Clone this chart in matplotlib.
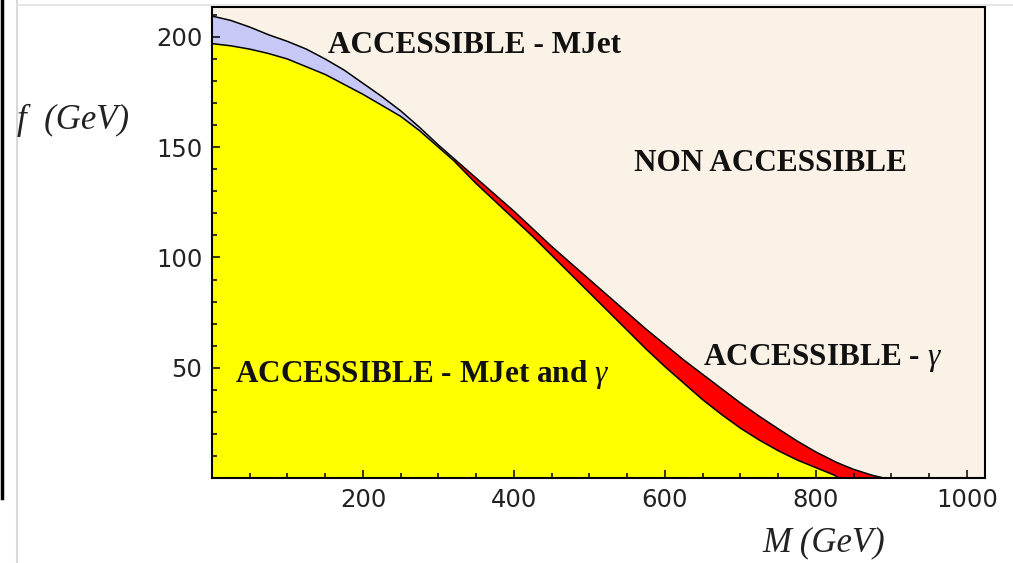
import numpy as np
import matplotlib
matplotlib.use('Agg')
import matplotlib.pyplot as plt
from matplotlib.lines import Line2D
from matplotlib.ticker import MultipleLocator, FixedLocator

plt.rcParams['mathtext.fontset'] = 'custom'
plt.rcParams['mathtext.it'] = 'Liberation Serif:italic'
plt.rcParams['mathtext.rm'] = 'Liberation Serif'

# M (GeV) grid
m_vals = [0, 25, 50, 75, 100, 125, 150, 175, 200, 225, 250, 275, 300, 320,
          350, 375, 400, 425, 450, 475, 500, 525, 550, 575, 600, 625, 650, 675,
          700, 725, 750, 775, 800, 825, 830, 850, 875, 890, 900]
# upper edge of accessible area (MJet left of crossing, gamma right of it)
f_outer = [209.5, 207.5, 204.5, 201, 198, 194.5, 190, 185, 179, 173, 166.5, 159, 151, 145,
           136, 128.5, 121, 113, 105, 97.5, 90, 82.5, 75, 67.5, 60.5, 53.5, 47, 40.5,
           34, 28, 22.3, 16.8, 11.8, 7.5, 6.7, 3.9, 1.2, 0, 0]
# upper edge of the region accessible with both MJet and gamma
f_both = [197, 196, 194.5, 192.5, 190, 186.5, 183, 178.5, 174, 169, 164, 157.5, 150, 144,
          133.5, 125.5, 117.5, 109.5, 101, 92.5, 84, 75.5, 67, 58.5, 50.5, 43, 35.5, 28.8,
          22.6, 17.2, 12.4, 8.2, 4.7, 1.2, 0, 0, 0, 0, 0]
m_cross = 320

m = np.array(m_vals)
outer = np.array(f_outer)
both = np.array(f_both)

beige = '#faf2e7'
yellow = '#ffff00'
blue = '#c8c8f6'
red = '#ff0000'

fig = plt.figure(figsize=(10.13, 5.63), dpi=100)
ax = fig.add_axes([212/1013, 1-478/563, (985-212)/1013, (478-7)/563])
ax.set_facecolor(beige)

ax.fill_between(m, 0, both, color=yellow, lw=0)
ax.fill_between(m, both, outer, where=m <= m_cross, color=blue, lw=0)
ax.fill_between(m, both, outer, where=m >= m_cross, color=red, lw=0)
ax.plot(m, outer, color='black', lw=1.1)
ax.plot(m[m <= 830], both[m <= 830], color='black', lw=1.1)

ax.set_xlim(0, 1024)
ax.set_ylim(0, 213.6)
ax.xaxis.set_major_locator(FixedLocator([200, 400, 600, 800, 1000]))
ax.xaxis.set_minor_locator(MultipleLocator(50))
ax.yaxis.set_major_locator(FixedLocator([50, 100, 150, 200]))
ax.yaxis.set_minor_locator(MultipleLocator(10))
ax.tick_params(which='both', direction='in', top=False, right=False, width=1.1,
               labelsize=17.5, pad=7, labelcolor='#222222')
ax.tick_params(which='major', length=6)
ax.tick_params(which='minor', length=3.5)
for s in ax.spines.values():
    s.set_linewidth(1.5)

lab = dict(family='Liberation Serif', fontweight='bold', fontsize=22.5, color='#111111')
ax.text(154, 196, 'ACCESSIBLE - MJet', ha='left', va='center', **lab)
ax.text(740, 142.7, 'NON ACCESSIBLE', ha='center', va='center', **lab)
ax.text(650, 54.5, r'ACCESSIBLE - $\gamma$', ha='left', va='center', **lab)
ax.text(30, 47, r'ACCESSIBLE - MJet and $\gamma$', ha='left', va='center', **lab)

fig.text(17/1013, 1-120/563, 'f  (GeV)', family='Liberation Serif', style='italic',
         fontsize=25, ha='left', va='center', color='#222222')
fig.text(824/1013, 1-543/563, 'M (GeV)', family='Liberation Serif', style='italic',
         fontsize=25, ha='center', va='center', color='#222222')

# page borders seen in the screenshot
fig.add_artist(Line2D([0.0015, 0.0015], [1, 1-498/563], color='black', lw=2.5,
                      transform=fig.transFigure))
fig.add_artist(Line2D([17/1013, 17/1013], [0, 1], color='#d9d9d9', lw=1.5,
                      transform=fig.transFigure))
fig.add_artist(Line2D([17/1013, 1], [1-5/563, 1-5/563], color='#e2e2e2', lw=1.2,
                      transform=fig.transFigure))

fig.savefig('out.png', dpi=100)
